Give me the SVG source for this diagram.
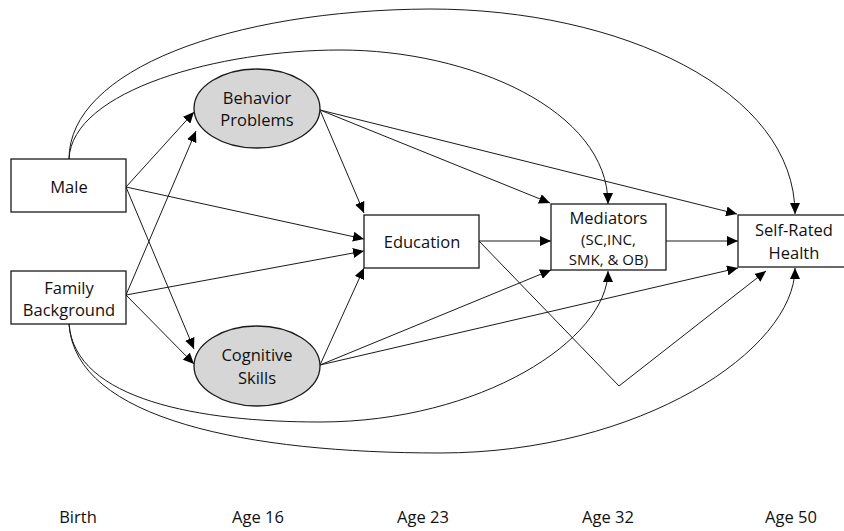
<svg xmlns="http://www.w3.org/2000/svg" width="844" height="531" viewBox="0 0 844 531">
<style>
  .box { fill: #ffffff; stroke: #1a1a1a; stroke-width: 1.3; }
  .ell { fill: #d6d6d6; stroke: #1a1a1a; stroke-width: 1.3; }
  .lbl { font-family: "Open Sans", "Liberation Sans", sans-serif; font-size: 16.5px; fill: #111111; text-anchor: middle; }
  .sub { font-size: 15px; }
  .edge { fill: none; stroke: #1a1a1a; stroke-width: 1; marker-end: url(#arr); }
</style>
<defs>
  <marker id="arr" markerUnits="userSpaceOnUse" markerWidth="11" markerHeight="10" refX="11" refY="5" orient="auto">
    <path d="M0,0 L11,5 L0,10 Z" fill="#000000"/>
  </marker>
</defs>
<rect width="844" height="531" fill="#ffffff"/>

<g id="connectors">
  <path class="edge" d="M69,159 C 69,70 230,10 430,9 C 620,9 795,90 795,214"/>
  <path class="edge" d="M69,159 C 72,90 220,50 340,50 C 470,50 608,110 608,204"/>
  <path class="edge" d="M69,324 C 75,400 200,422 320,422 C 480,422 608,340 608,271"/>
  <path class="edge" d="M69,324 C 75,420 250,453 440,453 C 640,453 795,350 795,268"/>
  <line class="edge" x1="126" y1="187" x2="194" y2="112"/>
  <line class="edge" x1="126" y1="187" x2="364" y2="239"/>
  <line class="edge" x1="126" y1="187" x2="194" y2="349"/>
  <line class="edge" x1="126" y1="295" x2="196" y2="131"/>
  <line class="edge" x1="126" y1="295" x2="364" y2="251"/>
  <line class="edge" x1="126" y1="295" x2="194" y2="364"/>
  <line class="edge" x1="320" y1="110" x2="364" y2="213"/>
  <line class="edge" x1="320" y1="110" x2="550" y2="203"/>
  <line class="edge" x1="320" y1="110" x2="737" y2="214"/>
  <line class="edge" x1="320" y1="365" x2="364" y2="268"/>
  <line class="edge" x1="320" y1="365" x2="551" y2="270"/>
  <line class="edge" x1="320" y1="365" x2="738" y2="268"/>
  <line class="edge" x1="479" y1="241" x2="551" y2="241"/>
  <line class="edge" x1="666" y1="241" x2="738" y2="241"/>
  <polyline class="edge" points="479,241 619,386 766,271"/>
</g>

<g id="male">
  <rect class="box" x="11" y="159" width="115" height="53"/>
  <text class="lbl" x="69" y="193">Male</text>
</g>
<g id="family-background">
  <rect class="box" x="11" y="271" width="115" height="53"/>
  <text class="lbl" x="69" y="294">Family</text>
  <text class="lbl" x="69" y="316">Background</text>
</g>
<g id="behavior-problems">
  <ellipse class="ell" cx="257" cy="108.5" rx="63" ry="39.5"/>
  <text class="lbl" x="257" y="104">Behavior</text>
  <text class="lbl" x="257" y="126">Problems</text>
</g>
<g id="cognitive-skills">
  <ellipse class="ell" cx="257" cy="366" rx="63" ry="40"/>
  <text class="lbl" x="257" y="361">Cognitive</text>
  <text class="lbl" x="257" y="384">Skills</text>
</g>
<g id="education">
  <rect class="box" x="364" y="215" width="115" height="53"/>
  <text class="lbl" x="422" y="248">Education</text>
</g>
<g id="mediators">
  <rect class="box" x="551" y="204" width="115" height="66"/>
  <text class="lbl" x="608.5" y="224">Mediators</text>
  <text class="lbl sub" x="608.5" y="245">(SC,INC,</text>
  <text class="lbl sub" x="608.5" y="265">SMK, &amp; OB)</text>
</g>
<g id="self-rated-health">
  <rect class="box" x="738" y="215" width="112" height="52"/>
  <text class="lbl" x="794" y="236">Self-Rated</text>
  <text class="lbl" x="794" y="259">Health</text>
</g>

<g id="time-labels">
  <text class="lbl" x="78" y="523">Birth</text>
  <text class="lbl" x="258" y="523">Age 16</text>
  <text class="lbl" x="423" y="523">Age 23</text>
  <text class="lbl" x="608" y="523">Age 32</text>
  <text class="lbl" x="791" y="523">Age 50</text>
</g>
</svg>
